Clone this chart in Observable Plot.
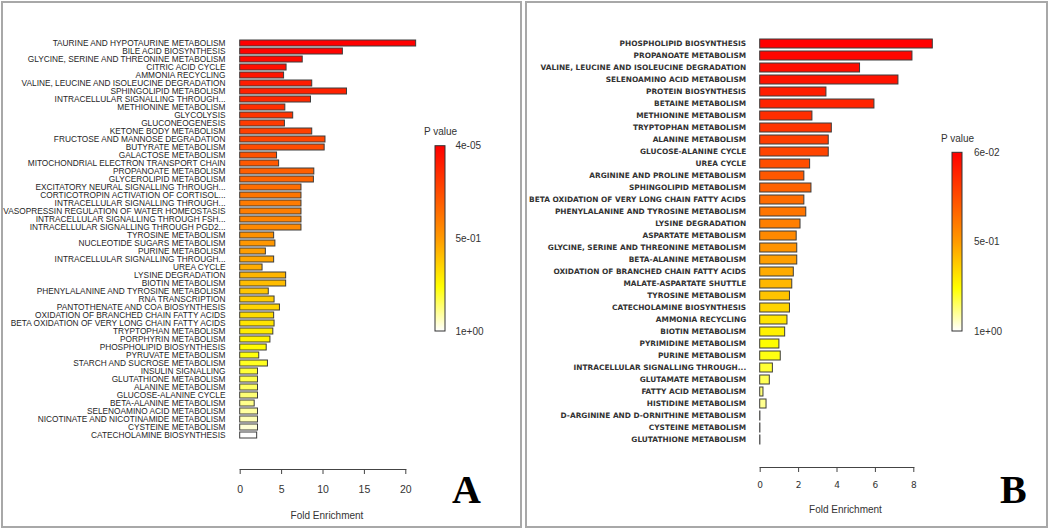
<!DOCTYPE html>
<html><head><meta charset="utf-8">
<script src="https://cdn.jsdelivr.net/npm/d3@7"></script>
<script src="https://cdn.jsdelivr.net/npm/@observablehq/plot@0.6"></script>
<style>
html,body{margin:0;padding:0;background:#fff;}
#root{position:relative;width:1050px;height:529px;overflow:hidden;background:#fff;}
#root svg.pl{position:absolute;overflow:visible;background:transparent;}
.frame{position:absolute;border:2px solid #a8a8a8;box-sizing:border-box;}
.letter{position:absolute;font-family:"Liberation Serif",serif;font-weight:bold;font-size:40px;line-height:1;color:#000;}
#pA g[aria-label="y-axis tick label"] text{font-family:"Liberation Sans",Arial,sans-serif;font-size:8.3px;fill:#262626;}
#pB g[aria-label="y-axis tick label"] text{font-family:"DejaVu Sans",sans-serif;font-size:7.4px;font-weight:bold;fill:#333;}
#pA g[aria-label="x-axis tick label"] text{font-family:"Liberation Sans",Arial,sans-serif;font-size:10.5px;fill:#333;}
#pB g[aria-label="x-axis tick label"] text{font-family:"DejaVu Sans",sans-serif;font-size:9px;fill:#333;}
.leg text{font-family:"Liberation Sans",Arial,sans-serif;font-size:10px;fill:#333;}
</style></head><body>
<div id="root">
<svg width="0" height="0" style="position:absolute"><defs id="gdefs"></defs></svg>
<div class="frame" style="left:1px;top:1px;width:521px;height:527px"></div>
<div class="frame" style="left:525px;top:1px;width:523px;height:527px"></div>
<div class="letter" style="left:452px;top:470px">A</div>
<div class="letter" style="left:1000px;top:470px">B</div>
</div>
<script>
// ---------- Panel A data ----------
const pathwaysA = [
"TAURINE AND HYPOTAURINE METABOLISM","BILE ACID BIOSYNTHESIS","GLYCINE, SERINE AND THREONINE METABOLISM",
"CITRIC ACID CYCLE","AMMONIA RECYCLING","VALINE, LEUCINE AND ISOLEUCINE DEGRADATION","SPHINGOLIPID METABOLISM",
"INTRACELLULAR SIGNALLING THROUGH...\u200b1","METHIONINE METABOLISM","GLYCOLYSIS","GLUCONEOGENESIS","KETONE BODY METABOLISM",
"FRUCTOSE AND MANNOSE DEGRADATION","BUTYRATE METABOLISM","GALACTOSE METABOLISM","MITOCHONDRIAL ELECTRON TRANSPORT CHAIN",
"PROPANOATE METABOLISM","GLYCEROLIPID METABOLISM","EXCITATORY NEURAL SIGNALLING THROUGH...","CORTICOTROPIN ACTIVATION OF CORTISOL...",
"INTRACELLULAR SIGNALLING THROUGH...\u200b2","VASOPRESSIN REGULATION OF WATER HOMEOSTASIS","INTRACELLULAR SIGNALLING THROUGH FSH...",
"INTRACELLULAR SIGNALLING THROUGH PGD2...","TYROSINE METABOLISM","NUCLEOTIDE SUGARS METABOLISM","PURINE METABOLISM",
"INTRACELLULAR SIGNALLING THROUGH...\u200b3","UREA CYCLE","LYSINE DEGRADATION","BIOTIN METABOLISM",
"PHENYLALANINE AND TYROSINE METABOLISM","RNA TRANSCRIPTION","PANTOTHENATE AND COA BIOSYNTHESIS",
"OXIDATION OF BRANCHED CHAIN FATTY ACIDS","BETA OXIDATION OF VERY LONG CHAIN FATTY ACIDS","TRYPTOPHAN METABOLISM",
"PORPHYRIN METABOLISM","PHOSPHOLIPID BIOSYNTHESIS","PYRUVATE METABOLISM","STARCH AND SUCROSE METABOLISM",
"INSULIN SIGNALLING","GLUTATHIONE METABOLISM","ALANINE METABOLISM","GLUCOSE-ALANINE CYCLE","BETA-ALANINE METABOLISM",
"SELENOAMINO ACID METABOLISM","NICOTINATE AND NICOTINAMIDE METABOLISM","CYSTEINE METABOLISM","CATECHOLAMINE BIOSYNTHESIS"];
const foldA = [21.25,12.4,7.55,5.6,5.3,8.7,12.9,8.55,5.45,6.4,5.4,8.7,10.3,10.2,4.45,4.7,8.95,8.9,7.4,7.4,7.4,7.4,7.4,7.4,
4.1,4.25,3.1,4.1,2.7,5.55,5.55,3.45,4.15,4.8,4.1,4.15,4.0,3.65,3.2,2.3,3.35,2.15,2.15,2.15,2.15,1.75,2.15,2.15,2.15,2.05];
const pValA = [0.00004,0.01,0.03,0.05,0.07,0.09,0.11,0.13,0.15,0.17,0.19,0.21,0.23,0.25,0.27,0.29,0.31,0.33,0.36,0.38,0.4,0.41,
0.43,0.45,0.47,0.49,0.51,0.53,0.55,0.57,0.59,0.61,0.63,0.65,0.67,0.69,0.71,0.73,0.75,0.77,0.79,0.81,0.83,0.85,0.87,0.89,0.91,0.93,0.96,1.0];
const ticksA = [0,5,10,15,20];
const pMinA = 0.00004;

// ---------- Panel B data ----------
const pathwaysB = [
"PHOSPHOLIPID BIOSYNTHESIS","PROPANOATE METABOLISM","VALINE, LEUCINE AND ISOLEUCINE DEGRADATION","SELENOAMINO ACID METABOLISM",
"PROTEIN BIOSYNTHESIS","BETAINE METABOLISM","METHIONINE METABOLISM","TRYPTOPHAN METABOLISM","ALANINE METABOLISM",
"GLUCOSE-ALANINE CYCLE","UREA CYCLE","ARGININE AND PROLINE METABOLISM","SPHINGOLIPID METABOLISM",
"BETA OXIDATION OF VERY LONG CHAIN FATTY ACIDS","PHENYLALANINE AND TYROSINE METABOLISM","LYSINE DEGRADATION",
"ASPARTATE METABOLISM","GLYCINE, SERINE AND THREONINE METABOLISM","BETA-ALANINE METABOLISM",
"OXIDATION OF BRANCHED CHAIN FATTY ACIDS","MALATE-ASPARTATE SHUTTLE","TYROSINE METABOLISM","CATECHOLAMINE BIOSYNTHESIS",
"AMMONIA RECYCLING","BIOTIN METABOLISM","PYRIMIDINE METABOLISM","PURINE METABOLISM","INTRACELLULAR SIGNALLING THROUGH...",
"GLUTAMATE METABOLISM","FATTY ACID METABOLISM","HISTIDINE METABOLISM","D-ARGININE AND D-ORNITHINE METABOLISM",
"CYSTEINE METABOLISM","GLUTATHIONE METABOLISM"];
const foldB = [8.99,7.93,5.2,7.2,3.45,5.95,2.72,3.73,3.57,3.57,2.6,2.3,2.67,2.3,2.4,2.1,1.9,1.93,1.93,1.75,1.67,1.55,1.55,
1.42,1.3,1.0,1.07,0.66,0.5,0.17,0.33,0.01,0.01,0.01];
const pValB = [0.06,0.08,0.1,0.12,0.15,0.17,0.2,0.22,0.25,0.27,0.3,0.33,0.36,0.39,0.42,0.45,0.48,0.51,0.54,0.57,0.6,0.63,
0.67,0.71,0.74,0.77,0.79,0.82,0.85,0.88,0.9,0.95,0.98,1.0];
const ticksB = [0,2,4,6,8];
const pMinB = 0.06;

// colour ramp (red -> orange -> yellow -> white)
const rampStops = [0,0.25,0.5,0.76,1];
const rampColors = ["#ff0000","#ff4c00","#ff9a00","#ffff00","#ffffff"];

const fmtExp = v => v.toExponential(0).replace(/e([+-])(\d)$/, "e$10$2");
const cleanName = s => s.replace(/\u200b\d$/, "");
const colorScale = pmin => ({type:"linear", domain: rampStops.map(f => pmin + f*(1-pmin)), range: rampColors});

// gradients for legends
const defs = d3.select("#gdefs");
for (const id of ["gradA","gradB"]) {
  const g = defs.append("linearGradient").attr("id", id).attr("x1",0).attr("y1",0).attr("x2",0).attr("y2",1);
  rampStops.forEach((f,i) => g.append("stop").attr("offset", f).attr("stop-color", rampColors[i]));
}

const root = document.getElementById("root");
function place(svg, left, top, id, cls) {
  svg.classList.add("pl");
  if (cls) svg.classList.add(cls);
  if (id) svg.id = id;
  svg.style.left = left + "px";
  svg.style.top = top + "px";
  root.appendChild(svg);
}

function panel(names, folds, pvals, pmin, ticks, o) {
  const rows = names.map((n,i) => ({name:n, fold:folds[i], p:pvals[i]}));
  return Plot.plot({
    width: o.width, height: 529,
    marginLeft: o.ml, marginRight: o.mr, marginTop: o.mt, marginBottom: o.mb,
    x: {domain: [ticks[0], ticks[ticks.length-1]]},
    y: {domain: names, padding: o.pad, insetBottom: o.inset},
    color: colorScale(pmin),
    marks: [
      Plot.barX(rows, {x: "fold", y: "name", fill: "p", stroke: "#3c3c3c", strokeWidth: 1}),
      Plot.frame({anchor: "bottom", stroke: "#444"}),
      Plot.axisX(ticks, {tickSize: 5, tickPadding: o.tp, label: null, stroke: "#444"}),
      Plot.axisY({tickSize: 0, tickPadding: o.ytp, label: null, tickFormat: cleanName}),
      Plot.text(["Fold Enrichment"], {frameAnchor: "bottom", dx: o.ldx, dy: o.ldy, fontSize: 10,
        fontFamily: "Liberation Sans, Arial, sans-serif", fill: "#333"})
    ]
  });
}

function legend(pmin, grad, o) {
  const mid = (pmin + 1) / 2;
  return Plot.plot({
    width: 70, height: o.h, marginLeft: 0, marginRight: 60, marginTop: o.mt, marginBottom: o.mb,
    x: {domain: [0,1], axis: null},
    y: {domain: [pmin, 1], reverse: true, axis: null},
    marks: [
      Plot.rect([0], {x1: 0, x2: 1, y1: pmin, y2: 1, fill: `url(#${grad})`, stroke: "#333", strokeWidth: 1}),
      Plot.axisY([pmin, mid, 1], {anchor: "right", tickSize: 0, tickPadding: o.tp, tickFormat: fmtExp, label: null}),
      Plot.text(["P value"], {frameAnchor: "top", dy: o.tdy, fontSize: 10, fill: "#333"})
    ]
  });
}

place(panel(pathwaysA, foldA, pValA, pMinA, ticksA,
  {width: 522, ml: 239.7, mr: 522-405.3, mt: 22.4, mb: 60, pad: 0.3, inset: 14.5, tp: 11, ytp: 14.7, ldx: 4, ldy: 49}), 0, 0, "pA");
place(panel(pathwaysB, foldB, pValB, pMinB, ticksB,
  {width: 526, ml: 235.7, mr: 1050-913.3, mt: 31.2, mb: 62, pad: 0.27, inset: 14.6, tp: 9, ytp: 14, ldx: 8.5, ldy: 45}), 524, 0, "pB");

place(legend(pMinA, "gradA", {h: 230, mt: 30.7, mb: 230-(331-115), tp: 10, tdy: -18}), 435.3, 115, null, "leg");
place(legend(pMinB, "gradB", {h: 230, mt: 37.3, mb: 230-(331-115), tp: 11.5, tdy: -17.5}), 951.7, 115, null, "leg");
</script>
</body></html>
